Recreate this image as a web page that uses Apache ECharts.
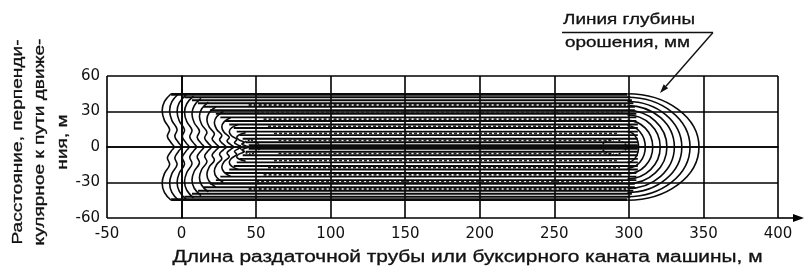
<!DOCTYPE html>
<html><head><meta charset="utf-8">
<script src="https://cdn.jsdelivr.net/npm/echarts@6/dist/echarts.min.js"></script>
<style>html,body{margin:0;padding:0;background:#fff}#c{width:805px;height:269px}</style>
</head><body><div id="c"></div>
<script>
// ---- axes ----
const xMin = -50, xMax = 400, xStep = 50;
const yMin = -60, yMax = 60, yStep = 30;

// ---- horizontal contour lines along the pass (y level, start x, end x) ----
const bandY     = [44.5, 42, 39.5, 37, 34, 31, 28, 25, 22, 19, 16, 13, 10, 7, 4, 1.5, -1.5, -4, -7, -10, -13, -16, -19, -22, -25, -28, -31, -34, -37, -39.5, -42, -44.5];
const bandStart = [-7, 2, 7, 11, 15, 19, 23, 26, 29, 32, 35, 37, 39, 41, 43, 45, 45, 43, 41, 39, 37, 35, 32, 29, 26, 23, 19, 15, 11, 7, 2, -7];
const bandEnd   = [299, 301, 302, 303, 304, 304, 305, 305, 305, 306, 306, 306, 306, 306, 306, 306, 306, 306, 306, 306, 306, 306, 306, 305, 305, 305, 304, 304, 303, 302, 301, 299];

// ---- dotted intermediate contours ----
const dotY     = [35.5, 29.5, 23.5, 17.5, 11.5, 5.5, -5.5, -11.5, -17.5, -23.5, -29.5, -35.5];
const dotStart = [45, 50, 55, 58, 62, 65, 65, 62, 58, 55, 50, 45];
const dotEnd   = [298, 296, 295, 294, 292, 290, 290, 292, 294, 295, 296, 298];

// ---- scalloped contours at the start (leftmost x, half height) ----
const scallopX   = [-13, -8, -3, 2, 7, 12, 17, 22, 27, 32, 37];
const scallopTop = [45, 45, 44, 43, 41, 38, 34, 30, 25, 19, 12];

// ---- knots (centre x, centre y, half-width, half-height) ----
const knotX  = [46, 290];
const knotY  = [0, 0];
const knotRx = [7, 9];
const knotRy = [6, 7];

// ---- semi-elliptic contours at the end (half-length, half-height) ----
const arcCx = 299;
const arcA  = [48, 42, 36.5, 31.5, 26.5, 22, 17, 12, 7.5];
const arcB  = [45, 42, 38.5, 35, 31, 27, 22.5, 18, 13];

const INK = '#0a0a0a';
const chart = echarts.init(document.getElementById('c'), null, {renderer: 'canvas'});

const tdx = [6, 1.5, 0, 1.5, 5, 3.5, 6, 8];
const tfy = [1, 0.85, 0.68, 0.5, 0.33, 0.2, 0.08, 0];

const option = {
  animation: false,
  backgroundColor: '#fff',
  grid: {left: 107, right: 27, top: 76, bottom: 51, outerBoundsMode: 'none'},
  xAxis: {
    type: 'value', min: xMin, max: xMax, interval: xStep,
    axisLine: {show: true, lineStyle: {color: '#000', width: 1.6}},
    axisTick: {show: false},
    axisLabel: {color: '#111', fontFamily: 'DejaVu Sans', fontSize: 15, margin: 9},
    splitLine: {show: true, lineStyle: {color: '#000', width: 1.6}}
  },
  yAxis: {
    type: 'value', min: yMin, max: yMax, interval: yStep,
    axisLine: {show: true, lineStyle: {color: '#000', width: 1.6}},
    axisTick: {show: false},
    axisLabel: {color: '#111', fontFamily: 'DejaVu Sans', fontSize: 15, margin: 7},
    splitLine: {show: true, lineStyle: {color: '#000', width: 1.6}}
  },
  series: [
    {
      type: 'custom', coordinateSystem: 'cartesian2d', silent: true,
      data: bandY.map((y, i) => [bandStart[i], bandEnd[i], y]),
      renderItem: (p, api) => {
        const y = api.value(2);
        const a = api.coord([api.value(0), y]), b = api.coord([api.value(1), y]);
        return {type: 'line', shape: {x1: a[0], y1: a[1], x2: b[0], y2: b[1]},
          style: {stroke: INK, lineWidth: Math.abs(y) > 44 ? 2.8 : 1.9}};
      }
    },
    {
      type: 'custom', coordinateSystem: 'cartesian2d', silent: true,
      data: dotY.map((y, i) => [dotStart[i], dotEnd[i], y]),
      renderItem: (p, api) => {
        const y = api.value(2);
        const a = api.coord([api.value(0), y]), b = api.coord([api.value(1), y]);
        return {type: 'line', shape: {x1: a[0], y1: a[1], x2: b[0], y2: b[1]},
          style: {stroke: '#222', lineWidth: 1.8, lineDash: [3, 2]}};
      }
    },
    {
      type: 'custom', coordinateSystem: 'cartesian2d', silent: true,
      data: scallopX.map((x, i) => [x, scallopTop[i]]),
      renderItem: (p, api) => {
        const x0 = api.value(0), top = api.value(1), pts = [];
        for (let k = 0; k < tdx.length; k++) pts.push(api.coord([x0 + tdx[k], top * tfy[k]]));
        for (let k = tdx.length - 2; k >= 0; k--) pts.push(api.coord([x0 + tdx[k], -top * tfy[k]]));
        return {type: 'polyline', shape: {points: pts, smooth: 0.4},
          style: {stroke: INK, lineWidth: 1.6, fill: null}};
      }
    },
    {
      type: 'custom', coordinateSystem: 'cartesian2d', silent: true,
      data: knotX.map((x, i) => [x, knotY[i], knotRx[i], knotRy[i]]),
      renderItem: (p, api) => {
        const cx = api.value(0), cy = api.value(1), rx = api.value(2), ry = api.value(3);
        const pts = [api.coord([cx - rx, cy]), api.coord([cx, cy + ry]), api.coord([cx + rx, cy]), api.coord([cx, cy - ry])];
        return {type: 'polygon', shape: {points: pts, smooth: 0.3},
          style: {stroke: INK, lineWidth: 1.5, fill: null, lineDash: [2, 1.5]}};
      }
    },
    {
      type: 'custom', coordinateSystem: 'cartesian2d', silent: true,
      data: arcA.map((a, i) => [arcCx, a, arcB[i]]),
      renderItem: (p, api) => {
        const c = api.coord([api.value(0), 0]);
        const s = api.size([api.value(1), api.value(2)]);
        const rx = s[0], ry = s[1], k = 0.5523, x = c[0], y = c[1];
        const st = {stroke: INK, lineWidth: 1.6, fill: null};
        return {type: 'group', children: [
          {type: 'bezierCurve', shape: {x1: x, y1: y - ry, cpx1: x + k * rx, cpy1: y - ry, cpx2: x + rx, cpy2: y - k * ry, x2: x + rx, y2: y}, style: st},
          {type: 'bezierCurve', shape: {x1: x + rx, y1: y, cpx1: x + rx, cpy1: y + k * ry, cpx2: x + k * rx, cpy2: y + ry, x2: x, y2: y + ry}, style: st}
        ]};
      }
    }
  ]
};
chart.setOption(option);

// ---- texts & decorations ----
const mctx = document.createElement('canvas').getContext('2d');
function textW(t, font) { mctx.font = font; return mctx.measureText(t).width; }

const xName = 'Длина раздаточной трубы или буксирного каната машины, м';
const yLines = ['Расстояние, перпенди-', 'кулярное к пути движе-', 'ния, м'];
const note1 = 'Линия глубины', note2 = 'орошения, мм';
const F = '"Liberation Sans", Arial, sans-serif';
const xNameFont = '16px ' + F, yNameFont = '15px ' + F, noteFont = '15px ' + F;
const sxX = 590 / textW(xName, xNameFont);
const sxY = 205 / textW(yLines[0], yNameFont);
const sxN = 132 / textW(note1, noteFont);
const TXT = '#111';

const axEnd = chart.convertToPixel({gridIndex: 0}, [xMax, yMin]);
const tip = [804, axEnd[1]];

const annStart = [713, 32.5], annTip = [660, 93];
const ang = Math.atan2(annTip[1] - annStart[1], annTip[0] - annStart[0]);
const L = 9, W = 3;
const bx = annTip[0] - L * Math.cos(ang), by = annTip[1] - L * Math.sin(ang);
const head = [annTip, [bx + W * Math.sin(ang), by - W * Math.cos(ang)], [bx - W * Math.sin(ang), by + W * Math.cos(ang)]];

chart.setOption({
  graphic: [
    {type: 'text', x: 467.5, y: 258, scaleX: sxX, silent: true,
      style: {text: xName, font: xNameFont, fill: TXT, align: 'center', verticalAlign: 'middle', stroke: TXT, lineWidth: 0.3}},
    {type: 'text', x: 40, y: 142, rotation: Math.PI / 2, scaleX: sxY, silent: true,
      style: {text: yLines.join('\n'), font: yNameFont, lineHeight: 22.5, fill: TXT, align: 'center', verticalAlign: 'middle', stroke: TXT, lineWidth: 0.3}},
    {type: 'text', x: 629, y: 20, scaleX: sxN, silent: true,
      style: {text: note1, font: noteFont, fill: TXT, align: 'center', verticalAlign: 'middle', stroke: TXT, lineWidth: 0.3}},
    {type: 'text', x: 627.5, y: 43, scaleX: sxN, silent: true,
      style: {text: note2, font: noteFont, fill: TXT, align: 'center', verticalAlign: 'middle', stroke: TXT, lineWidth: 0.3}},
    {type: 'line', silent: true, shape: {x1: 562, y1: 32.5, x2: 713, y2: 32.5}, style: {stroke: '#111', lineWidth: 1.4}},
    {type: 'line', silent: true, shape: {x1: annStart[0], y1: annStart[1], x2: bx, y2: by}, style: {stroke: '#111', lineWidth: 1.4}},
    {type: 'polygon', silent: true, shape: {points: head}, style: {fill: '#111'}},
    {type: 'line', silent: true, shape: {x1: axEnd[0], y1: axEnd[1], x2: tip[0] - 8, y2: tip[1]}, style: {stroke: '#000', lineWidth: 1.6}},
    {type: 'polygon', silent: true, shape: {points: [tip, [tip[0] - 11, tip[1] - 4], [tip[0] - 11, tip[1] + 4]]}, style: {fill: '#000'}}
  ]
});
</script>
</body></html>
